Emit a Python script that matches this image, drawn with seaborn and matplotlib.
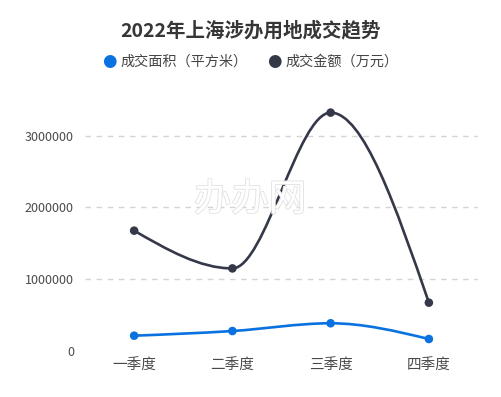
import numpy as np
import pandas as pd
import seaborn as sns
import matplotlib.pyplot as plt
from matplotlib.path import Path
from matplotlib.patches import PathPatch
import matplotlib.patheffects as pe

quarters = ["一季度", "二季度", "三季度", "四季度"]
area = [213000, 278000, 386000, 167000]        # 成交面积（平方米）
amount = [1676000, 1150000, 3320000, 673000]   # 成交金额（万元）
series_names = ["成交面积（平方米）", "成交金额（万元）"]
y_ticks = [0, 1000000, 2000000, 3000000]

colors = {"成交面积（平方米）": "#0a72e0", "成交金额（万元）": "#343848"}

df = pd.DataFrame({
    "季度": quarters * 2,
    "值": area + amount,
    "系列": [series_names[0]] * 4 + [series_names[1]] * 4,
})
df["x"] = df["季度"].map({q: i for i, q in enumerate(quarters)})

sns.set_theme(style="white")
plt.rcParams["font.family"] = ["Noto Sans CJK SC", "DejaVu Sans"]

fig = plt.figure(figsize=(5.01, 3.97), dpi=100)
ax = fig.add_axes([0.1697, 0.1159, 0.7844, 0.633])
ax.set_xlim(-0.5, len(quarters) - 0.5)
ax.set_ylim(0, 3500000)


def monotone_path(xs, ys):
    # monotone-x cubic bezier (like d3.curveMonotoneX)
    xs = np.asarray(xs, float)
    ys = np.asarray(ys, float)
    n = len(xs)
    h = np.diff(xs)
    s = np.diff(ys) / h
    t = np.zeros(n)
    for i in range(1, n - 1):
        p = (s[i - 1] * h[i] + s[i] * h[i - 1]) / (h[i - 1] + h[i])
        sg = np.sign(s[i - 1]) + np.sign(s[i])
        t[i] = sg * min(abs(s[i - 1]), abs(s[i]), 0.5 * abs(p))
    t[0] = (3 * s[0] - t[1]) / 2
    t[-1] = (3 * s[-1] - t[-2]) / 2
    verts = [(xs[0], ys[0])]
    codes = [Path.MOVETO]
    for i in range(n - 1):
        dx = h[i] / 3
        verts += [(xs[i] + dx, ys[i] + dx * t[i]),
                  (xs[i + 1] - dx, ys[i + 1] - dx * t[i + 1]),
                  (xs[i + 1], ys[i + 1])]
        codes += [Path.CURVE4] * 3
    return Path(verts, codes)


for name in series_names:
    sub = df[df["系列"] == name]
    path = monotone_path(sub["x"].values, sub["值"].values)
    ax.add_patch(PathPatch(path, facecolor="none", edgecolor=colors[name],
                           lw=1.9, zorder=3, capstyle="round"))

sns.scatterplot(data=df, x="x", y="值", hue="系列", palette=colors, s=38,
                edgecolor="none", legend=False, ax=ax, zorder=4)

ax.set_yticks(y_ticks)
ax.set_yticklabels([str(t) for t in y_ticks])
ax.set_xticks(range(len(quarters)))
ax.set_xticklabels(quarters, fontsize=10.5)
ax.set_xlabel("")
ax.set_ylabel("")
for t in y_ticks[1:]:
    ax.axhline(t, color="#d4d4d4", lw=1, ls=(0, (4, 4)), zorder=1)
ax.tick_params(axis="both", length=0, colors="#4a4a4a")
ax.tick_params(axis="y", pad=8, labelsize=9)
ax.tick_params(axis="x", pad=6)
for s in ax.spines.values():
    s.set_visible(False)

# watermark
fig.text(0.499, 0.496, "办办网", ha="center", va="center", fontsize=27,
         color="white", zorder=0,
         path_effects=[pe.withStroke(linewidth=1.2, foreground="#e4e0e0")])

fig.text(0.5, 0.923, "2022年上海涉办用地成交趋势", ha="center", va="center",
         fontsize=14, fontweight="bold", color="#363636")

# legend
legend_items = [(0.218, series_names[0]), (0.547, series_names[1])]
for xpos, name in legend_items:
    fig.text(xpos, 0.847, "●", ha="center", va="center", fontsize=12,
             color=colors[name], family=["DejaVu Sans"])
    fig.text(xpos + 0.022, 0.845, name, ha="left", va="center", fontsize=10.2,
             color="#444444")

fig.savefig("out.png", dpi=100)
